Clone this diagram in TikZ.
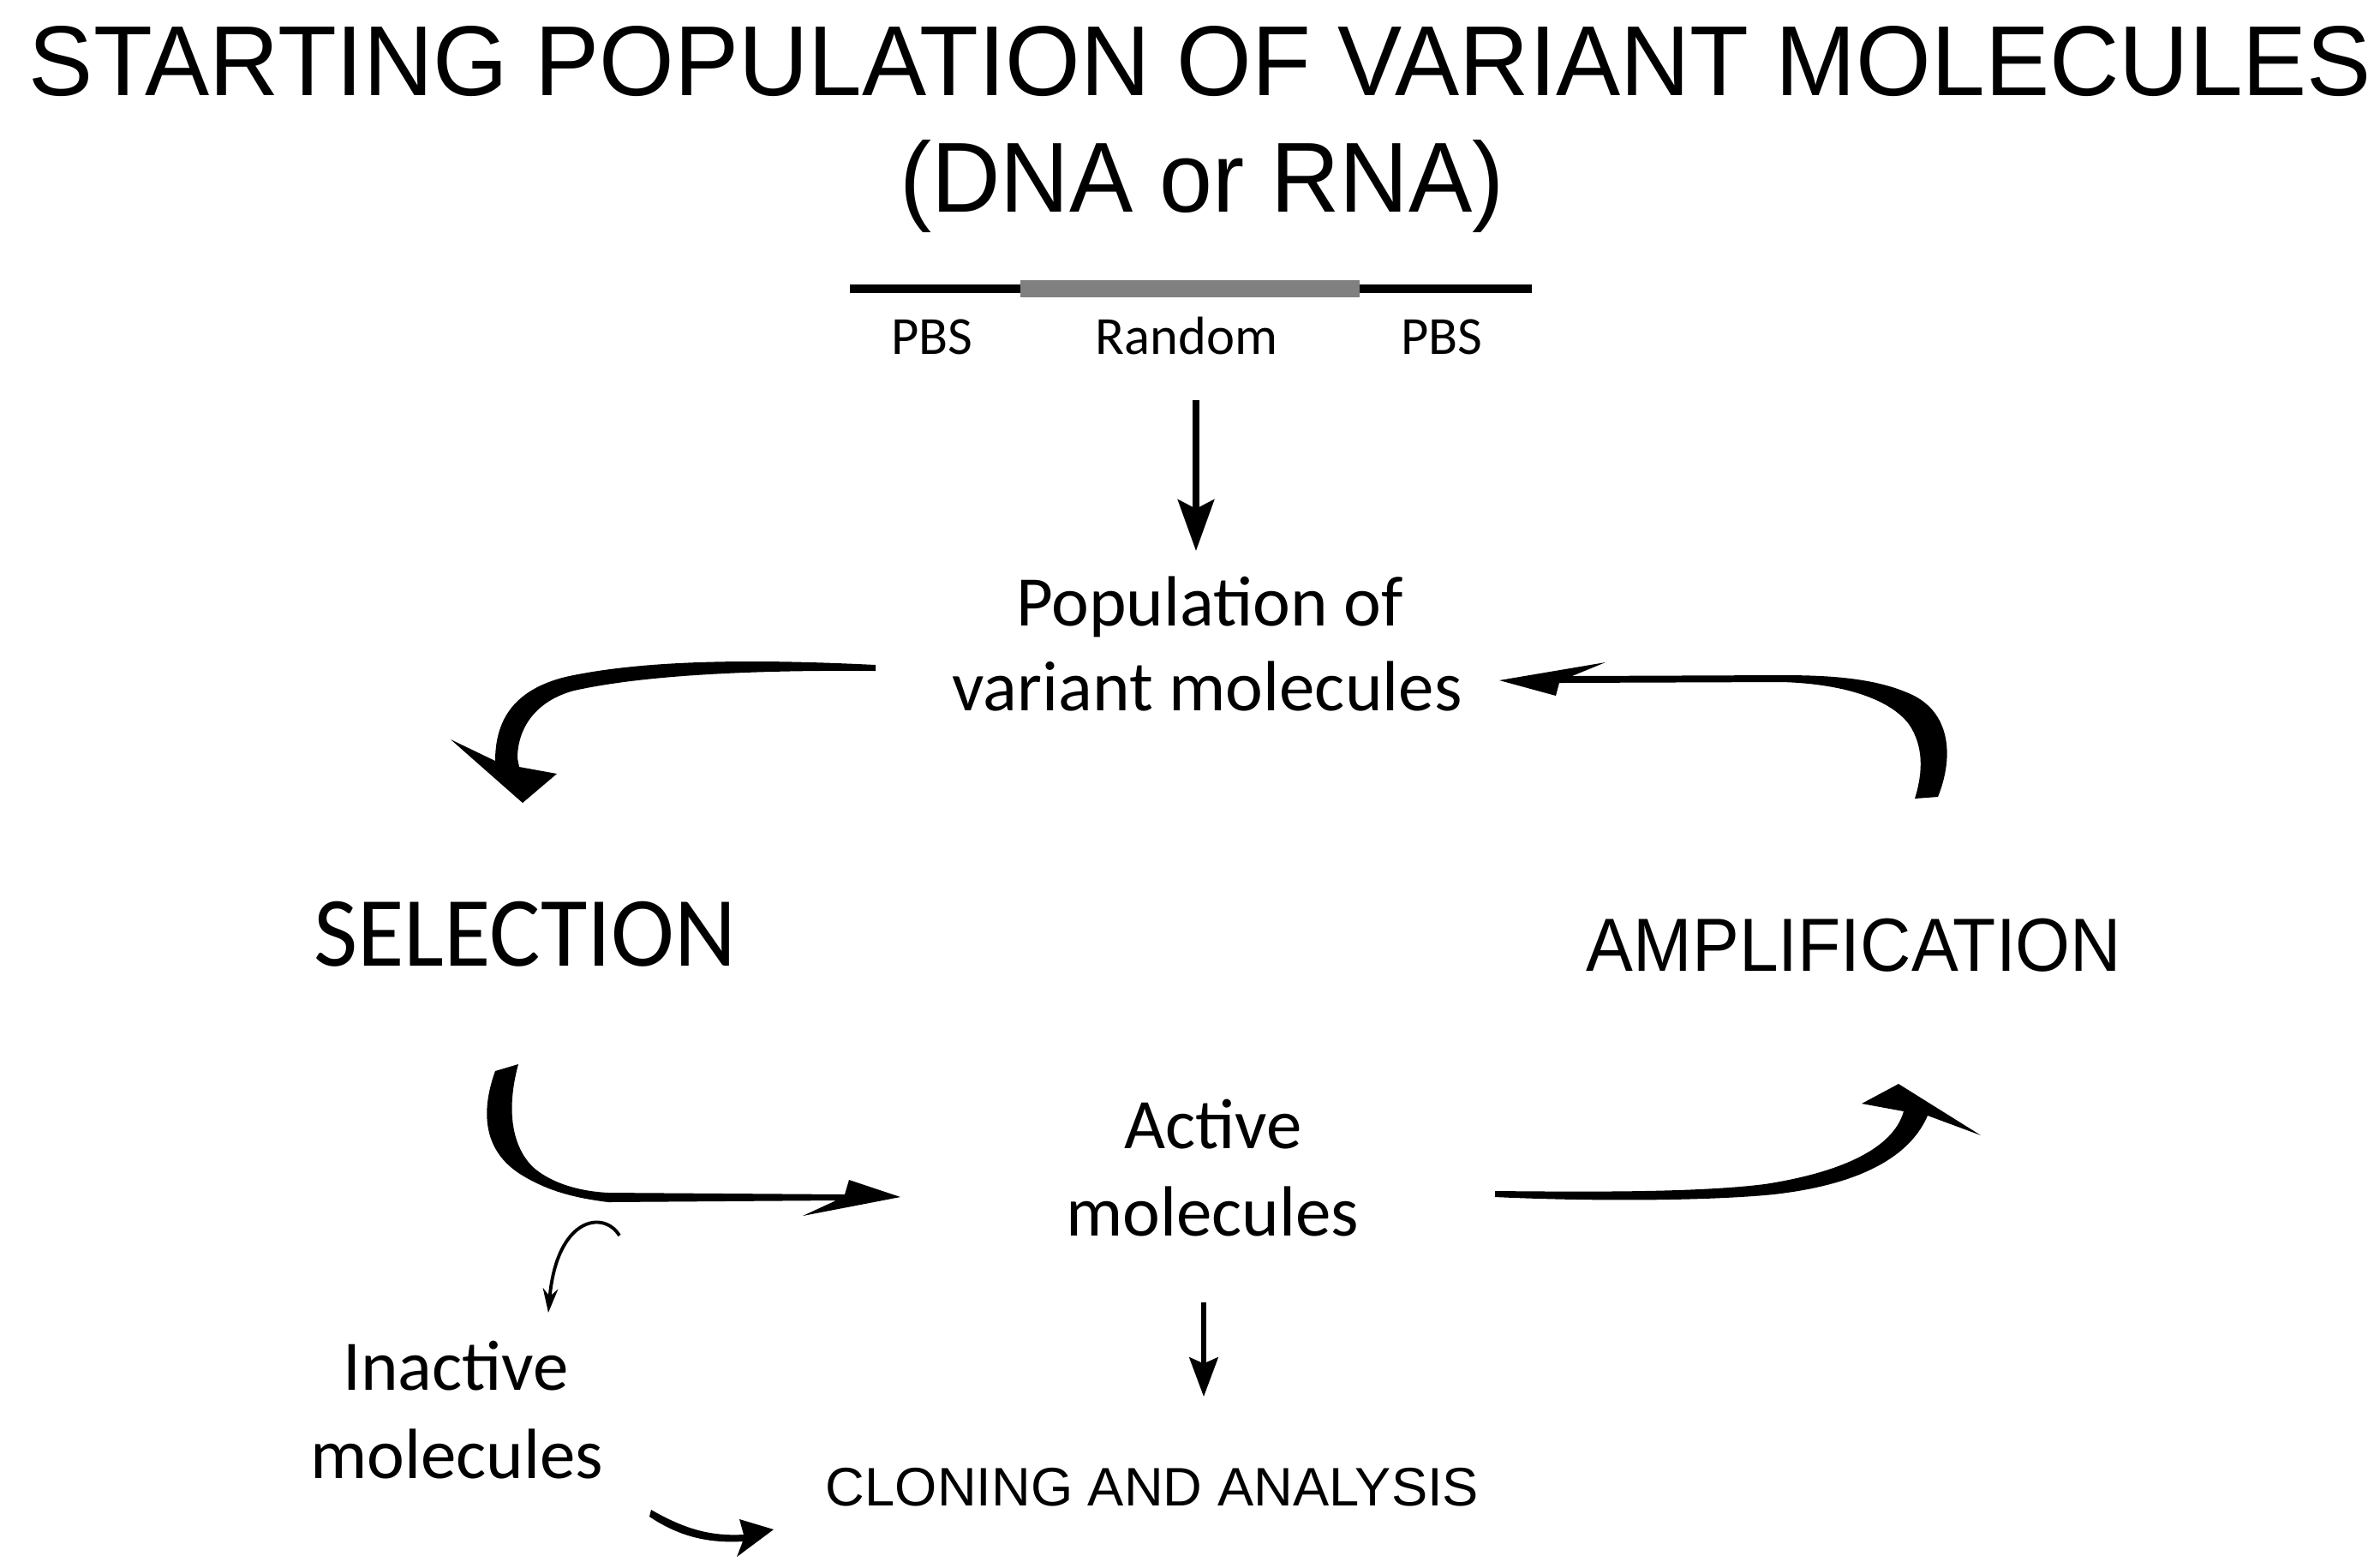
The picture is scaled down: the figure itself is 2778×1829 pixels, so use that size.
\documentclass[tikz,border=0pt]{standalone}
\usepackage{fontspec}
\setmainfont{Carlito}
\newfontfamily\arialf{Liberation Sans}
\usetikzlibrary{arrows.meta}
\begin{document}
\begin{tikzpicture}[x=0.01cm,y=-0.01cm,
  every node/.style={inner sep=0pt,anchor=base},
  titletxt/.style={font=\arialf\fontsize{33}{40}\selectfont},
  smalltxt/.style={font=\fontsize{17.8}{21}\selectfont},
  midtxt/.style={font=\fontsize{23.6}{28}\selectfont},
  bigtxt/.style={font=\fontsize{33}{40}\selectfont},
  ampltxt/.style={font=\arialf\fontsize{25}{30}\selectfont},
  clontxt/.style={font=\arialf\fontsize{18}{22}\selectfont},
  brush/.style={fill=black},
  thinarrow/.style={line width=1.1pt,-{Stealth[length=8pt,width=5pt]}}
]
\useasboundingbox (0,0) rectangle (2778,1829);

% titles
\node[titletxt] (t1) at (1401,111) {\scalebox{0.971}[1]{STARTING POPULATION OF VARIANT MOLECULES}};
\node[titletxt] (t2) at (1403,247) {\scalebox{0.96}[1]{(DNA or RNA)}};

% DNA molecule
\coordinate (d0) at (992,337);
\coordinate (d1) at (1191,337);
\coordinate (d2) at (1587,337);
\coordinate (d3) at (1788,337);
\draw[line width=2.6pt] (d0) -- (d1);
\draw[line width=2.6pt] (d2) -- (d3);
\draw[line width=5.8pt,color={rgb,255:red,128;green,128;blue,128}] (d1) -- (d2);
\node[smalltxt] (pbs1) at (1088,413) {PBS};
\node[smalltxt] (rnd) at (1385,413) {Random};
\node[smalltxt] (pbs2) at (1683,413) {PBS};

% first down arrow
\coordinate (a1s) at (1396,467);
\coordinate (a1e) at (1396,643);
\draw[line width=2.3pt,-{Stealth[length=17pt,width=12pt,inset=3pt]}] (a1s) -- (a1e);

\node[midtxt] (pop1) at (1412,730) {Population of};
\node[midtxt] (pop2) at (1409,829) {variant molecules};

\node[bigtxt] (sel) at (613,1127) {\scalebox{0.96}[1]{SELECTION}};
\node[ampltxt] (amp) at (2164,1133) {\scalebox{0.935}[1]{AMPLIFICATION}};

\node[midtxt] (act1) at (1416,1340) {Active};
\node[midtxt] (act2) at (1415,1442) {molecules};

\node[midtxt] (ina1) at (532,1622) {Inactive};
\node[midtxt] (ina2) at (533,1725) {molecules};

\node[clontxt] (clon) at (1345,1757) {CLONING AND ANALYSIS};

% second down arrow
\coordinate (a2s) at (1405,1520);
\coordinate (a2e) at (1405,1630);
\draw[line width=1.7pt,-{Stealth[length=13pt,width=9.5pt,inset=2pt]}] (a2s) -- (a2e);

% arrow A: population -> selection
\fill[brush] (1022,776) .. controls (900,770) and (760,768) .. (660,790)
  .. controls (600,805) and (578,840) .. (578,888) -- (526,863) -- (610,937)
  -- (650,903) -- (606,895) -- (604,885)
  .. controls (604,850) and (625,818) .. (670,806)
  .. controls (760,786) and (900,782) .. (1022,783) -- cycle;

% arrow B: amplification -> population
\fill[brush] (2262,930) .. controls (2282,880) and (2275,830) .. (2230,810)
  .. controls (2190,792) and (2140,788) .. (2080,788) -- (1835,789)
  -- (1874,773) -- (1750,794) -- (1816,812) -- (1820,797) -- (2080,796)
  .. controls (2150,798) and (2205,815) .. (2228,845)
  .. controls (2245,870) and (2245,900) .. (2235,932) -- cycle;

% arrow C: selection -> active
\fill[brush] (578,1250) .. controls (560,1300) and (565,1345) .. (610,1372)
  .. controls (640,1390) and (670,1398) .. (710,1403) -- (976,1401)
  -- (937,1419) -- (1051,1397) -- (991,1377) -- (986,1394) -- (710,1392)
  .. controls (670,1390) and (640,1378) .. (622,1362)
  .. controls (595,1335) and (592,1290) .. (605,1242) -- cycle;

% arrow D: active -> amplification
\fill[brush] (1745,1397) .. controls (1850,1402) and (1990,1402) .. (2070,1394)
  .. controls (2150,1385) and (2225,1360) .. (2250,1302) -- (2312,1325)
  -- (2216,1265) -- (2173,1288) -- (2222,1297)
  .. controls (2210,1340) and (2150,1368) .. (2060,1382)
  .. controls (1980,1392) and (1850,1391) .. (1745,1390) -- cycle;

% arrow E: to inactive molecules
\coordinate (e1) at (723,1442);
\coordinate (e2) at (640,1532);
\draw[thinarrow] (e1) .. controls (705,1412) and (650,1420) .. (e2);

% arrow F: small bottom arrow
\fill[brush] (760,1762) .. controls (800,1785) and (830,1793) .. (868,1791)
  -- (863,1773) -- (903,1785) -- (860,1817) -- (867,1799)
  .. controls (830,1801) and (795,1795) .. (758,1770) -- cycle;
\end{tikzpicture}
\end{document}
